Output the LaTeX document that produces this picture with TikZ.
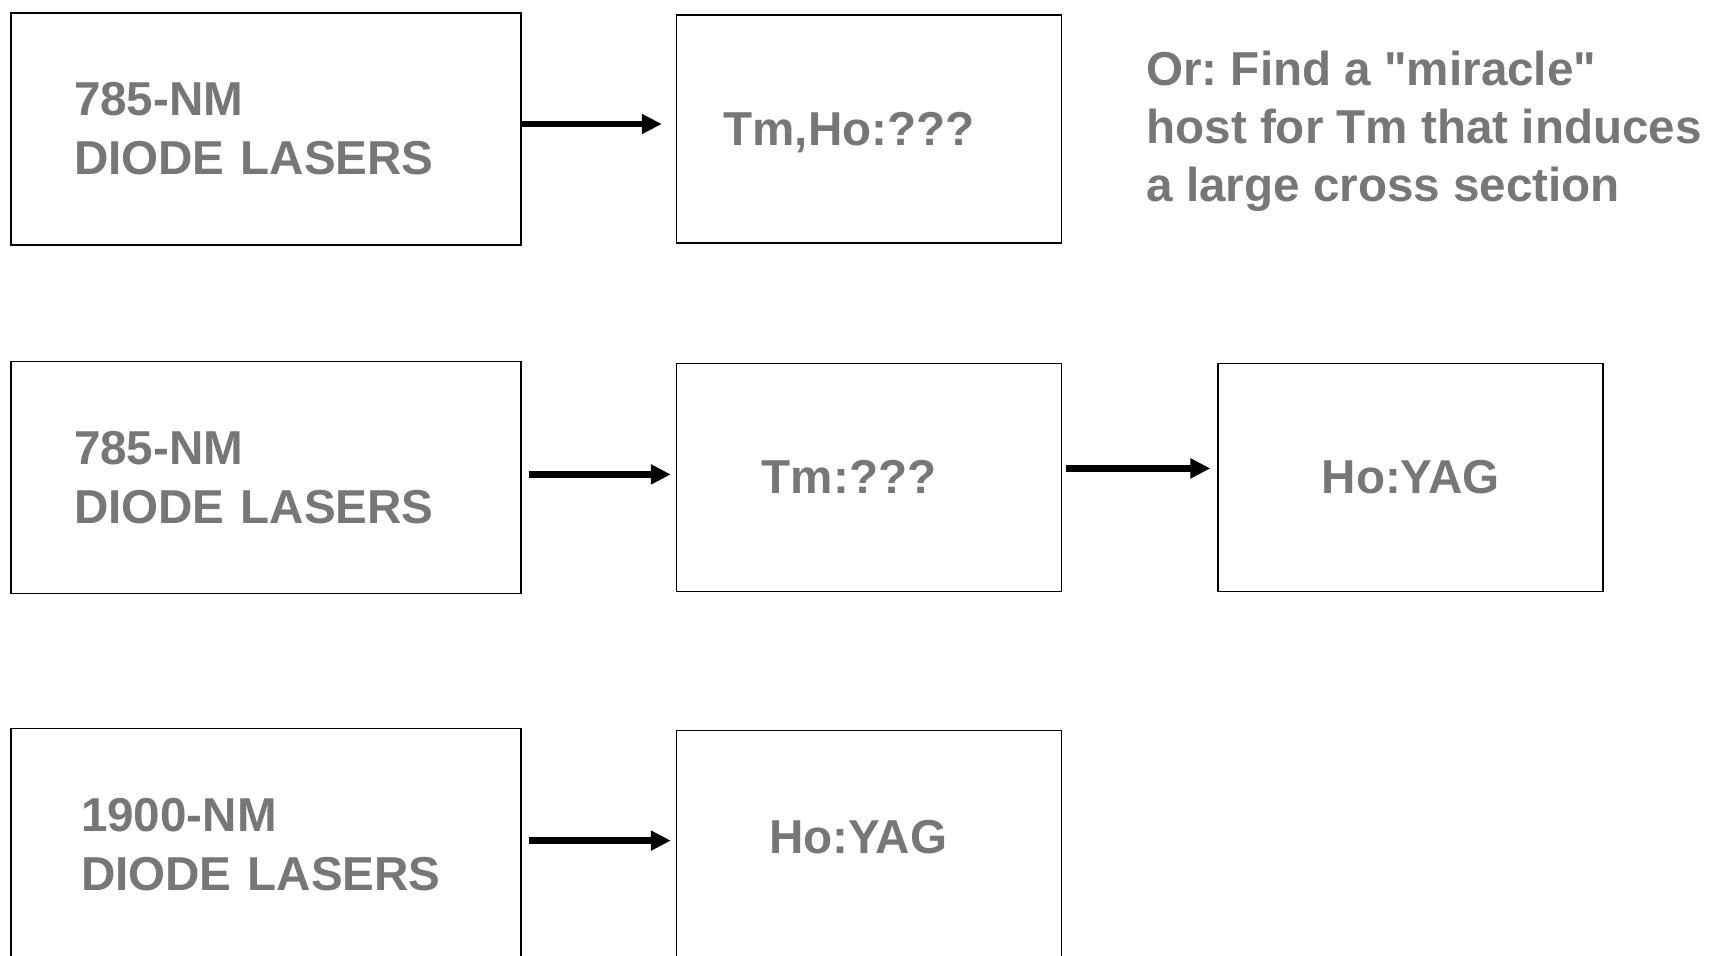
\documentclass[tikz,border=0pt]{standalone}
\usepackage{fontspec}
\setmainfont{Liberation Sans}
\usepackage{xcolor}
\usetikzlibrary{arrows.meta, positioning}
\definecolor{labelgray}{HTML}{777777}
\frenchspacing

\begin{document}
\begin{tikzpicture}[
    x=0.5pt, y=-0.5pt,
    node distance=57.4pt,
    source/.style={rectangle, draw=black, line width=0.8pt, minimum width=255pt, minimum height=116pt, inner xsep=31.5pt, text width=192pt, align=left, text=labelgray, font=\fontsize{23.8}{29.5}\selectfont\bfseries},
    crystal/.style={rectangle, draw=black, line width=0.8pt, minimum width=192.5pt, minimum height=114pt, align=center, text=labelgray, font=\fontsize{23.8}{29.5}\selectfont\bfseries},
    note/.style={anchor=west, inner sep=0pt, align=left, text=labelgray, font=\fontsize{23.8}{29}\selectfont\bfseries},
    arrow/.style={draw=black, line width=3.3pt, -{Triangle[length=10pt, width=9.5pt]}}
]
    \useasboundingbox (0,0) rectangle (1710,955);
    \clip (0,0) rectangle (1710,955);

    % first row
    \node [source] (diode1) at (266,129) {785-NM\\DIODE LASERS};
    \node [crystal, right=77pt of diode1] (tmho) {\raisebox{-1.6pt}[\height][\depth]{Tm,Ho:???}\hspace*{20pt}};
    \node [note] (miracle) at (1146,131.3) {Or: Find a \textquotedbl miracle\textquotedbl\\host for Tm that induces\\a large cross section};

    % second row
    \node [source, below=of diode1] (diode2) {785-NM\\DIODE LASERS};
    \node [crystal, right=77pt of diode2] (tm) {\raisebox{1pt}{Tm:???}\hspace*{20pt}};
    \node [crystal, right=77.5pt of tm] (hoyag1) {Ho:YAG};

    % third row
    \node [source, below=66.8pt of diode2, inner xsep=35pt, text width=185pt] (diode3) {1900-NM\\DIODE LASERS};
    \node [crystal, right=77pt of diode3] (hoyag2) {\raisebox{7.5pt}{Ho:YAG}\hspace*{11pt}};

    \draw [arrow, shorten <=-1pt, shorten >=7pt] ([yshift=2.5pt]diode1.east) -- ([yshift=2.5pt]tmho.west);
    \draw [arrow, shorten <=3.5pt, shorten >=2.5pt] ([yshift=1.5pt]diode2.east) -- ([yshift=1.5pt]tm.west);
    \draw [arrow, shorten <=2pt, shorten >=3.5pt] ([yshift=4.5pt]tm.east) -- ([yshift=4.5pt]hoyag1.west);
    \draw [arrow, shorten <=3.5pt, shorten >=2.5pt] ([yshift=2pt]diode3.east) -- ([yshift=2pt]hoyag2.west);
\end{tikzpicture}
\end{document}
